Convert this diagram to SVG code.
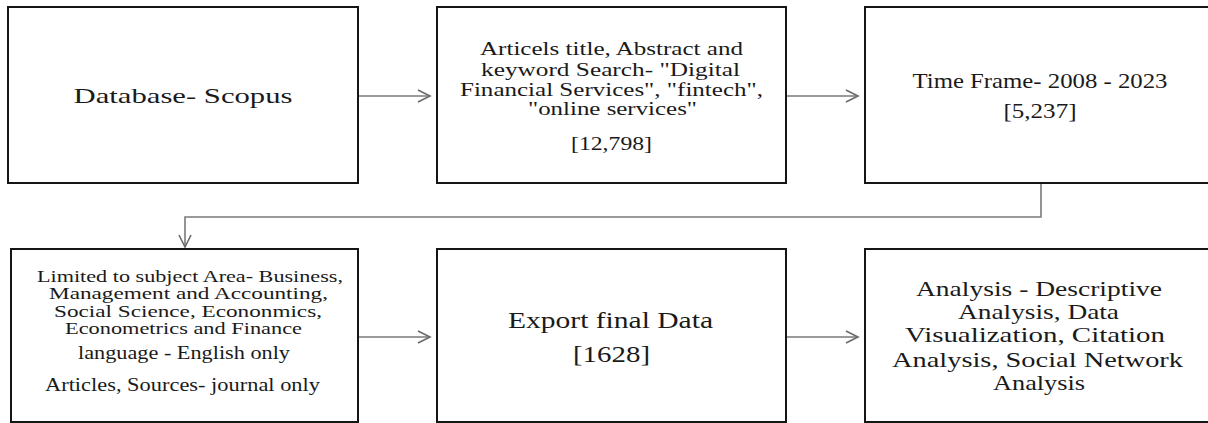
<svg xmlns="http://www.w3.org/2000/svg" width="1208" height="423" viewBox="0 0 1208 423">
<style>
.box{fill:#fff;stroke:#151515;stroke-width:2}
.c{fill:none;stroke:#7a7a7a;stroke-width:1.6}
text{font-family:"Liberation Serif","Times New Roman",serif;fill:#1a1a1a;text-anchor:middle}
.t19{font-size:19px}
.t17{font-size:17px}
.t18{font-size:18px}
.t21{font-size:21px}
.t22{font-size:22px}
.t24{font-size:24px}
</style>
<defs>
<marker id="ah" markerUnits="userSpaceOnUse" markerWidth="16" markerHeight="16" refX="13" refY="7" orient="auto">
<path d="M1,1 L13,7 L1,13" fill="none" stroke="#6a6a6a" stroke-width="1.6"/>
</marker>
</defs>
<rect width="1208" height="423" fill="#fff"/>
<g id="connectors">
<line class="c" x1="359" y1="96" x2="430" y2="96" marker-end="url(#ah)"/>
<line class="c" x1="787" y1="96" x2="858" y2="96" marker-end="url(#ah)"/>
<polyline class="c" points="1041,184 1041,217 185,217 185,247" marker-end="url(#ah)"/>
<line class="c" x1="359" y1="337" x2="430" y2="337" marker-end="url(#ah)"/>
<line class="c" x1="787" y1="337" x2="858" y2="337" marker-end="url(#ah)"/>
</g>
<g id="n1">
<rect class="box" x="8" y="7" width="350" height="176"/>
<text class="t22" x="183" y="103" textLength="219" lengthAdjust="spacingAndGlyphs">Database- Scopus</text>
</g>
<g id="n2">
<rect class="box" x="437" y="7" width="349" height="176"/>
<text class="t19" x="611.5" y="55" textLength="263" lengthAdjust="spacingAndGlyphs">Articels  title,  Abstract and</text>
<text class="t19" x="610.5" y="76" textLength="259" lengthAdjust="spacingAndGlyphs">keyword Search-  "Digital</text>
<text class="t19" x="611.5" y="96" textLength="303" lengthAdjust="spacingAndGlyphs">Financial  Services", "fintech",</text>
<text class="t19" x="612.5" y="115" textLength="169" lengthAdjust="spacingAndGlyphs">"online  services"</text>
<text class="t19" x="611.5" y="150" textLength="81" lengthAdjust="spacingAndGlyphs">[12,798]</text>
</g>
<g id="n3">
<rect class="box" x="865" y="7" width="360" height="176"/>
<text class="t21" x="1040" y="88" textLength="255" lengthAdjust="spacingAndGlyphs">Time Frame- 2008 - 2023</text>
<text class="t21" x="1040" y="118" textLength="73" lengthAdjust="spacingAndGlyphs">[5,237]</text>
</g>
<g id="n4">
<rect class="box" x="11" y="249" width="347" height="173"/>
<text class="t17" x="190" y="281.5" textLength="306" lengthAdjust="spacingAndGlyphs">Limited to subject Area- Business,</text>
<text class="t17" x="188.5" y="299" textLength="279" lengthAdjust="spacingAndGlyphs">Management and Accounting,</text>
<text class="t17" x="188" y="316.5" textLength="268" lengthAdjust="spacingAndGlyphs">Social Science, Econonmics,</text>
<text class="t17" x="183.5" y="334" textLength="237" lengthAdjust="spacingAndGlyphs">Econometrics and Finance</text>
<text class="t18" x="184" y="359" textLength="212" lengthAdjust="spacingAndGlyphs">language  - English only</text>
<text class="t18" x="182.5" y="391" textLength="275" lengthAdjust="spacingAndGlyphs">Articles, Sources- journal only</text>
</g>
<g id="n5">
<rect class="box" x="437" y="249" width="349" height="173"/>
<text class="t24" x="610.5" y="328" textLength="205" lengthAdjust="spacingAndGlyphs">Export  final Data</text>
<text class="t24" x="611.5" y="362" textLength="77" lengthAdjust="spacingAndGlyphs">[1628]</text>
</g>
<g id="n6">
<rect class="box" x="865" y="249" width="360" height="173"/>
<text class="t22" x="1039" y="296" textLength="246" lengthAdjust="spacingAndGlyphs">Analysis  - Descriptive</text>
<text class="t22" x="1038.5" y="319" textLength="161" lengthAdjust="spacingAndGlyphs">Analysis, Data</text>
<text class="t22" x="1035" y="342" textLength="260" lengthAdjust="spacingAndGlyphs">Visualization, Citation</text>
<text class="t22" x="1037.5" y="367" textLength="291" lengthAdjust="spacingAndGlyphs">Analysis, Social  Network</text>
<text class="t22" x="1039" y="390" textLength="92" lengthAdjust="spacingAndGlyphs">Analysis</text>
</g>
</svg>
